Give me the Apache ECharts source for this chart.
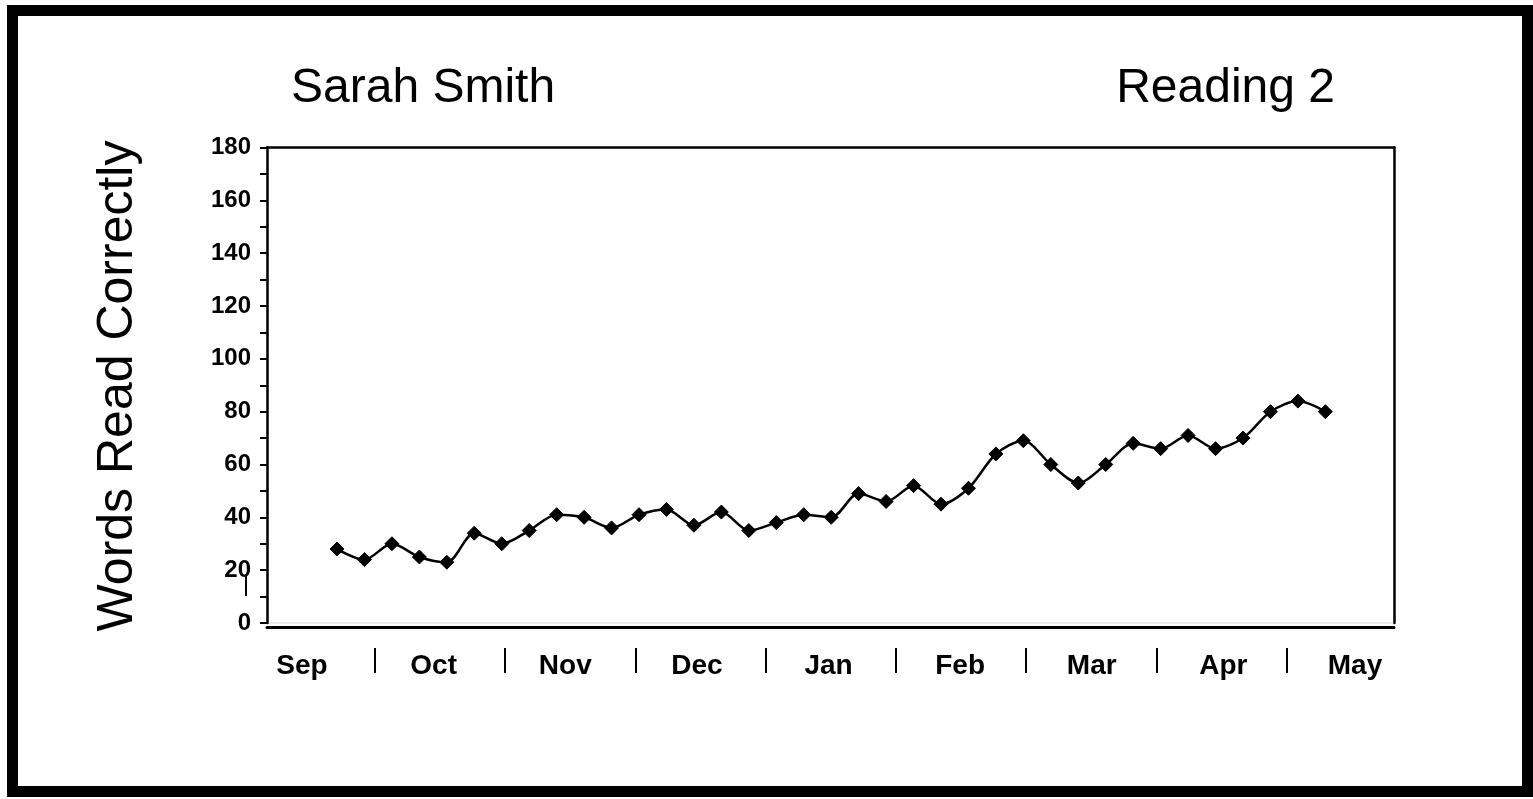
<!DOCTYPE html>
<html>
<head>
<meta charset="utf-8">
<script src="https://cdn.jsdelivr.net/npm/echarts@6/dist/echarts.min.js"></script>
<style>
  html, body { margin: 0; padding: 0; background: #fff; }
  #chart { width: 1533px; height: 799px; }
</style>
</head>
<body>
<div id="chart"></div>
<script>
// ---- data ----
const studentName = 'Sarah Smith';
const chartLabel = 'Reading 2';
const yAxisTitle = 'Words Read Correctly';
const months = ['Sep', 'Oct', 'Nov', 'Dec', 'Jan', 'Feb', 'Mar', 'Apr', 'May'];
// weekly words-read-correctly scores (one per probe, in order)
const scores = [28, 24, 30, 25, 23, 34, 30, 35, 41, 40, 36, 41, 43, 37, 42, 35, 38, 41, 40,
                49, 46, 52, 45, 51, 64, 69, 60, 53, 60, 68, 66, 71, 66, 70, 80, 84, 80];
const yMin = 0, yMax = 180, yStep = 10, yLabelStep = 20;

// ---- chart ----
const FONT = '"Liberation Sans", Arial, sans-serif';
const seriesData = scores.map((v, i) => [i, v]);
const xMin = -2.55, xMax = 38.5;

const chart = echarts.init(document.getElementById('chart'), null, { renderer: 'canvas' });
chart.setOption({
  animation: false,
  backgroundColor: '#fff',
  title: [
    { text: studentName, left: 286, top: 60,
      textStyle: { fontFamily: FONT, fontSize: 48, fontWeight: 'normal', color: '#000' } },
    { text: chartLabel, right: 193, top: 60,
      textStyle: { fontFamily: FONT, fontSize: 48, fontWeight: 'normal', color: '#000' } }
  ],
  grid: [
    { left: 267, right: 139, top: 147.5, bottom: 176, show: true, borderColor: '#d9d9d9', borderWidth: 1, backgroundColor: 'transparent' },
    { left: 244.4, right: 116, top: 648, height: 25 },
    { left: 236.2, right: 112.2, top: 643, height: 30 }
  ],
  xAxis: [
    { gridIndex: 0, type: 'value', min: xMin, max: xMax, position: 'bottom', offset: 4,
      axisLine: { show: true, onZero: false, lineStyle: { color: '#000', width: 3 } },
      axisTick: { show: false }, axisLabel: { show: false }, splitLine: { show: false } },
    { gridIndex: 0, type: 'value', min: xMin, max: xMax, position: 'top',
      axisLine: { show: true, onZero: false, lineStyle: { color: '#000', width: 2.5 } },
      axisTick: { show: false }, axisLabel: { show: false }, splitLine: { show: false } },
    { gridIndex: 1, type: 'category', data: months, boundaryGap: true,
      axisLine: { show: false }, axisTick: { show: false }, axisLabel: { show: false },
      splitLine: { show: true, showMinLine: false, showMaxLine: false, lineStyle: { color: '#000', width: 2 } } },
    { gridIndex: 2, type: 'category', data: months, boundaryGap: true,
      axisLine: { show: false }, axisTick: { show: false }, splitLine: { show: false },
      axisLabel: { show: true, interval: 0, margin: -7, verticalAlign: 'middle',
        fontFamily: FONT, fontWeight: 'bold', fontSize: 28, color: '#000' } }
  ],
  yAxis: [
    { gridIndex: 0, type: 'value', min: yMin, max: yMax, interval: yStep, position: 'left',
      axisLine: { show: true, onZero: false, lineStyle: { color: '#000', width: 2.5 } },
      axisTick: { show: true, length: 7, lineStyle: { color: '#000', width: 2 } },
      splitLine: { show: false },
      axisLabel: { margin: 16, fontFamily: FONT, fontWeight: 'bold', fontSize: 24, color: '#000',
        formatter: v => (v % yLabelStep === 0 ? String(v) : '') } },
    { gridIndex: 0, type: 'value', min: yMin, max: yMax, position: 'right',
      axisLine: { show: true, onZero: false, lineStyle: { color: '#000', width: 2.5 } },
      axisTick: { show: false }, axisLabel: { show: false }, splitLine: { show: false } },
    { gridIndex: 1, type: 'value', show: false },
    { gridIndex: 2, type: 'value', show: false }
  ],
  series: [
    { type: 'line', xAxisIndex: 0, yAxisIndex: 0, data: seriesData,
      smooth: 0.3, symbol: 'diamond', symbolSize: 14, showSymbol: true,
      lineStyle: { color: '#000', width: 2.5 },
      itemStyle: { color: '#000', borderColor: '#000' } }
  ],
  graphic: [
    { type: 'rect', silent: true, shape: { x: 12.5, y: 10.5, width: 1515, height: 781 },
      style: { fill: 'none', stroke: '#000', lineWidth: 11 } },
    { type: 'text', silent: true, x: 118, y: 386, rotation: Math.PI / 2,
      style: { text: yAxisTitle, font: '50px "Liberation Sans", Arial, sans-serif', fill: '#000',
        textAlign: 'center', textVerticalAlign: 'middle' } },
    { type: 'line', silent: true, shape: { x1: 246, y1: 574, x2: 246, y2: 596 },
      style: { stroke: '#000', lineWidth: 2 } }
  ]
});
</script>
</body>
</html>
